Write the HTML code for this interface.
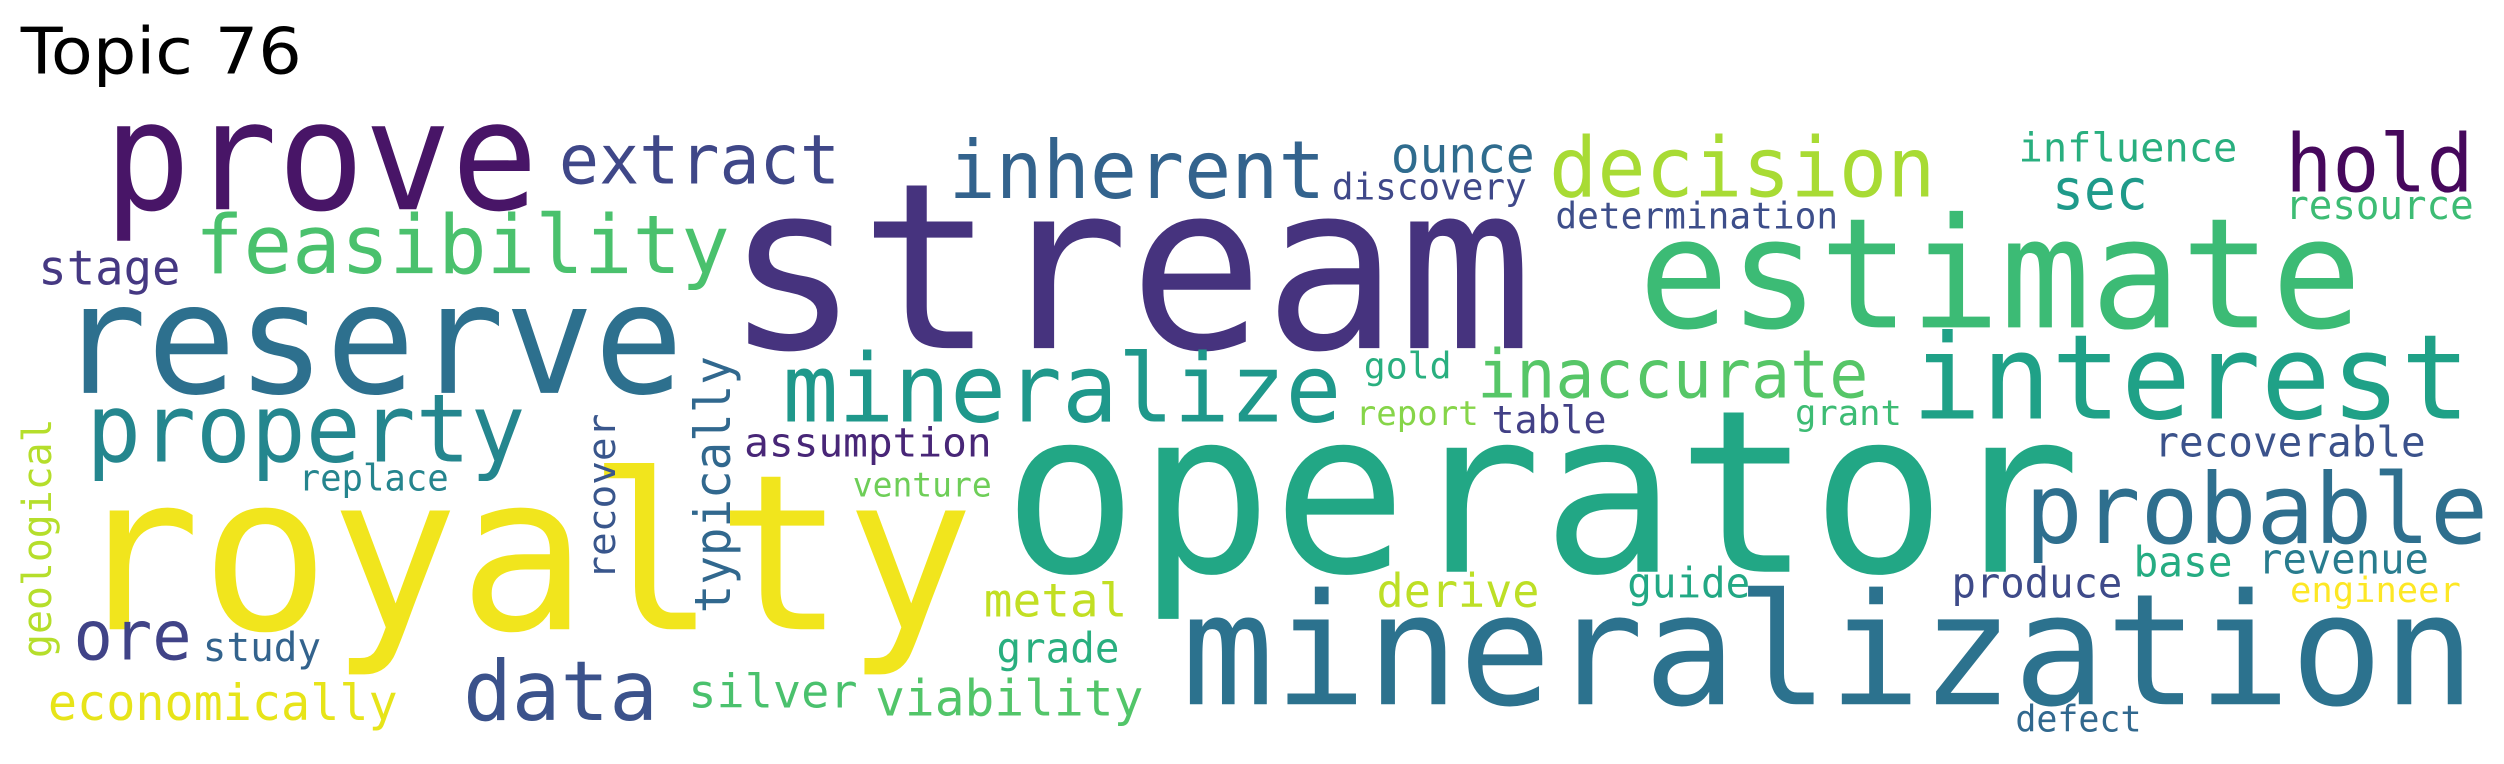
<!DOCTYPE html>
<html><head><meta charset="utf-8"><style>
html,body{margin:0;padding:0;background:#fff;}
svg{display:block;}
text.w{font-family:"DejaVu Sans Mono","Liberation Mono",monospace;}
</style></head><body>
<svg id="cloud" width="2504" height="764" viewBox="0 0 1568 478.4" preserveAspectRatio="none" xmlns="http://www.w3.org/2000/svg">
<rect width="1568" height="478.4" fill="#fff"/>
<text x="13" y="46" font-family="DejaVu Sans, Liberation Sans, sans-serif" font-size="40" textLength="176" lengthAdjust="spacingAndGlyphs" fill="#000">Topic 76</text>
<g>
<text class="w" x="65" y="131" font-size="95" textLength="272" lengthAdjust="spacingAndGlyphs" fill="#481567">prove</text>
<text class="w" x="454" y="218" font-size="145" textLength="506" lengthAdjust="spacingAndGlyphs" fill="#46337e">stream</text>
<text class="w" x="45" y="394" font-size="136" textLength="565" lengthAdjust="spacingAndGlyphs" fill="#f1e51d">royalty</text>
<text class="w" x="628" y="358" font-size="142" textLength="675" lengthAdjust="spacingAndGlyphs" fill="#22a785">operator</text>
<text class="w" x="740" y="441" font-size="97" textLength="810" lengthAdjust="spacingAndGlyphs" fill="#2c728e">mineralization</text>
<text class="w" x="1026" y="205" font-size="96" textLength="453" lengthAdjust="spacingAndGlyphs" fill="#3cbb75">estimate</text>
<text class="w" x="36" y="246" font-size="96" textLength="392" lengthAdjust="spacingAndGlyphs" fill="#2d708e">reserve</text>
<text class="w" x="1197" y="262" font-size="74" textLength="350" lengthAdjust="spacingAndGlyphs" fill="#1fa187">interest</text>
<text class="w" x="1268" y="340" font-size="61" textLength="290" lengthAdjust="spacingAndGlyphs" fill="#2e6f8e">probable</text>
<text class="w" x="490" y="264" font-size="59" textLength="350" lengthAdjust="spacingAndGlyphs" fill="#1f988b">mineralize</text>
<text class="w" x="54" y="289" font-size="59" textLength="275" lengthAdjust="spacingAndGlyphs" fill="#24868e">property</text>
<text class="w" x="122" y="171" font-size="51" textLength="335" lengthAdjust="spacingAndGlyphs" fill="#4ac16d">feasibility</text>
<text class="w" x="594" y="124" font-size="50" textLength="236" lengthAdjust="spacingAndGlyphs" fill="#33638d">inherent</text>
<text class="w" x="970" y="123" font-size="52" textLength="242" lengthAdjust="spacingAndGlyphs" fill="#a8db34">decision</text>
<text class="w" x="350" y="115" font-size="43" textLength="176" lengthAdjust="spacingAndGlyphs" fill="#3f4788">extract</text>
<text class="w" x="1431" y="120" font-size="50" textLength="118" lengthAdjust="spacingAndGlyphs" fill="#46085c">hold</text>
<text class="w" x="290" y="451" font-size="52" textLength="122" lengthAdjust="spacingAndGlyphs" fill="#3b528b">data</text>
<text class="w" x="925" y="249" font-size="42" textLength="245" lengthAdjust="spacingAndGlyphs" fill="#56c667">inaccurate</text>
<text class="w" x="46" y="413" font-size="43" textLength="74" lengthAdjust="spacingAndGlyphs" fill="#404387">ore</text>
<text class="w" x="1285" y="131" font-size="35" textLength="60" lengthAdjust="spacingAndGlyphs" fill="#1f9a8a">sec</text>
<text class="w" x="871" y="108" font-size="31" textLength="90" lengthAdjust="spacingAndGlyphs" fill="#2f6c8e">ounce</text>
<text class="w" x="834" y="125" font-size="23" textLength="122" lengthAdjust="spacingAndGlyphs" fill="#3f4889">discovery</text>
<text class="w" x="974" y="143" font-size="23" textLength="177" lengthAdjust="spacingAndGlyphs" fill="#3d4e8a">determination</text>
<text class="w" x="1264" y="101" font-size="25" textLength="137" lengthAdjust="spacingAndGlyphs" fill="#29af7f">influence</text>
<text class="w" x="1431" y="137" font-size="25" textLength="118" lengthAdjust="spacingAndGlyphs" fill="#3dbc74">resource</text>
<text class="w" x="24" y="178" font-size="30" textLength="89" lengthAdjust="spacingAndGlyphs" fill="#453882">stage</text>
<text class="w" x="854" y="237" font-size="23" textLength="55" lengthAdjust="spacingAndGlyphs" fill="#29af7f">gold</text>
<text class="w" x="849" y="266" font-size="21" textLength="77" lengthAdjust="spacingAndGlyphs" fill="#86d549">report</text>
<text class="w" x="934" y="271" font-size="24" textLength="72" lengthAdjust="spacingAndGlyphs" fill="#424086">table</text>
<text class="w" x="1124" y="266" font-size="22" textLength="67" lengthAdjust="spacingAndGlyphs" fill="#3dbc74">grant</text>
<text class="w" x="466" y="286" font-size="25" textLength="155" lengthAdjust="spacingAndGlyphs" fill="#482677">assumption</text>
<text class="w" x="187" y="307" font-size="23" textLength="94" lengthAdjust="spacingAndGlyphs" fill="#25858e">replace</text>
<text class="w" x="534" y="311" font-size="21" textLength="87" lengthAdjust="spacingAndGlyphs" fill="#6ece58">venture</text>
<text class="w" x="1349" y="286" font-size="26" textLength="170" lengthAdjust="spacingAndGlyphs" fill="#3b528b">recoverable</text>
<text class="w" transform="translate(457,384) rotate(-90)" x="0" y="0" font-size="31" textLength="161" lengthAdjust="spacingAndGlyphs" fill="#31688e">typically</text>
<text class="w" transform="translate(385,363) rotate(-90)" x="0" y="0" font-size="24" textLength="104" lengthAdjust="spacingAndGlyphs" fill="#39568c">recover</text>
<text class="w" transform="translate(32,412) rotate(-90)" x="0" y="0" font-size="25" textLength="150" lengthAdjust="spacingAndGlyphs" fill="#b5de2b">geological</text>
<text class="w" x="616" y="386" font-size="29" textLength="90" lengthAdjust="spacingAndGlyphs" fill="#c2df23">metal</text>
<text class="w" x="862" y="380" font-size="29" textLength="102" lengthAdjust="spacingAndGlyphs" fill="#bddf26">derive</text>
<text class="w" x="1019" y="374" font-size="26" textLength="77" lengthAdjust="spacingAndGlyphs" fill="#22a884">guide</text>
<text class="w" x="1222" y="374" font-size="26" textLength="107" lengthAdjust="spacingAndGlyphs" fill="#3e4a89">produce</text>
<text class="w" x="1336" y="361" font-size="26" textLength="62" lengthAdjust="spacingAndGlyphs" fill="#25ac82">base</text>
<text class="w" x="1414" y="359" font-size="26" textLength="107" lengthAdjust="spacingAndGlyphs" fill="#287c8e">revenue</text>
<text class="w" x="1434" y="377" font-size="22" textLength="107" lengthAdjust="spacingAndGlyphs" fill="#fde725">engineer</text>
<text class="w" x="127" y="414" font-size="25" textLength="74" lengthAdjust="spacingAndGlyphs" fill="#33638d">study</text>
<text class="w" x="624" y="415" font-size="26" textLength="77" lengthAdjust="spacingAndGlyphs" fill="#29af7f">grade</text>
<text class="w" x="30" y="451" font-size="31" textLength="219" lengthAdjust="spacingAndGlyphs" fill="#e7e419">economically</text>
<text class="w" x="431" y="443" font-size="29" textLength="106" lengthAdjust="spacingAndGlyphs" fill="#4ac16d">silver</text>
<text class="w" x="548" y="448" font-size="31" textLength="168" lengthAdjust="spacingAndGlyphs" fill="#52c569">viability</text>
<text class="w" x="1262" y="458" font-size="23" textLength="79" lengthAdjust="spacingAndGlyphs" fill="#31688e">defect</text>
</g>
</svg>
</body></html>
